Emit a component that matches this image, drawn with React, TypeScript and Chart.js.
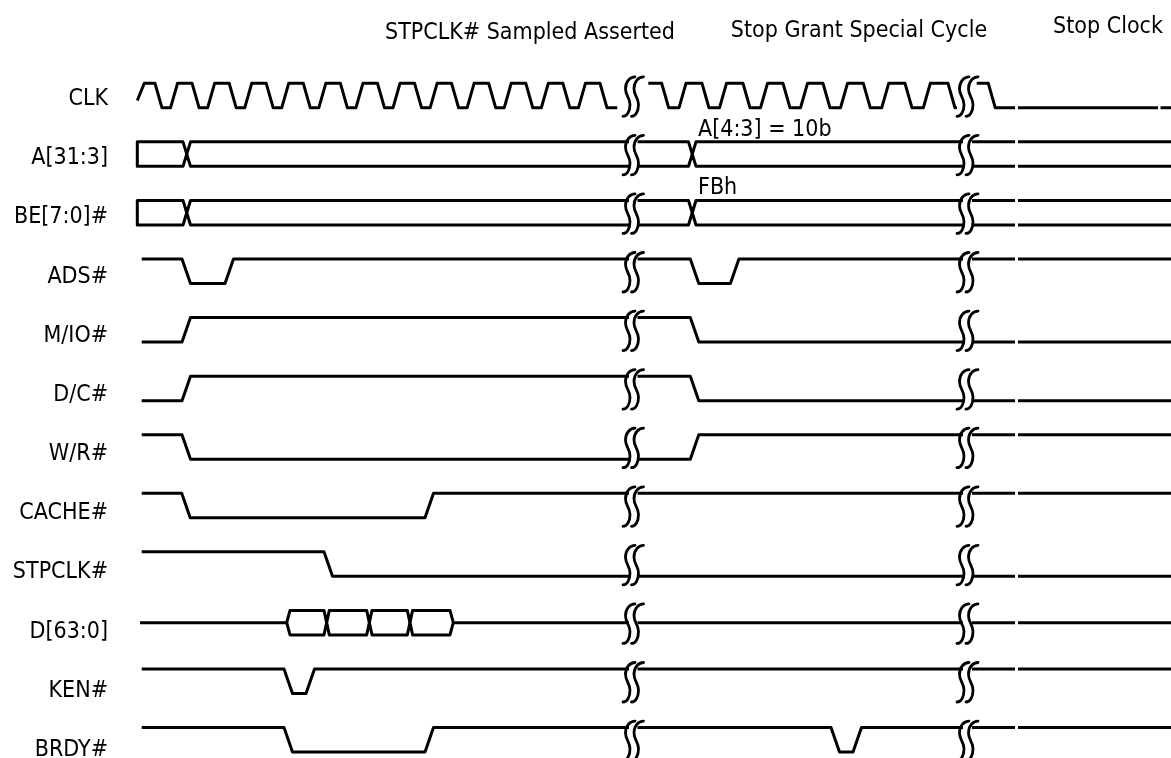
import React, { useEffect, useRef } from "react";
import { Chart, registerables } from "chart.js";

Chart.register(...registerables);

// ---------------- DATA ----------------
const signalNames = ["CLK", "A[31:3]", "BE[7:0]#", "ADS#", "M/IO#", "D/C#", "W/R#", "CACHE#", "STPCLK#", "D[63:0]", "KEN#", "BRDY#"];

const headerTexts = ["STPCLK# Sampled Asserted", "Stop Grant Special Cycle", "Stop Clock"];
const headerCenters = [530, 859, 1108];
const headerBaselinesPx = [39, 37, 33];

const busNoteTexts = ["A[4:3] = 10b", "FBh"];
const busNoteTimes = [698, 698];
const busNoteRows = [1, 2];

// CLK (diagram time units)
const clkStart = 137.3;
const clkStartLevel = 0.3;
const clkFalls = [155, 192.1, 229.2, 266.2, 303.3, 340.4, 377.5, 414.6, 451.6, 488.7, 525.8, 562.9, 600,
  661.7, 702, 743, 783, 823, 863.3, 905, 948, 988.3];
const clkRises = [137.3, 170.5, 207.6, 244.7, 281.7, 318.8, 355.9, 393, 430.1, 467.1, 504.2, 541.3, 578.4, 628,
  679, 719.5, 760.5, 800.5, 840.5, 881.7, 923.3, 961];
const clkGaps: [number, number][] = [[617.3, 648.3], [957, 976.7], [1015, 1018], [1158, 1160.5]];

// buses
const busStart = 137.3;
const aCrossings = [183, 688.5];
const beCrossings = [183, 688.5];
const dFloatStart = 140;
const dValid = [286.7, 453.3];
const dCrossings = [324, 366.7, 407.3];

// single-line signals: [time, new level]
const adsEdges: [number, number][] = [[182, 0], [225, 1], [690.3, 0], [730.4, 1]];
const mioEdges: [number, number][] = [[182, 1], [690.3, 0]];
const dcEdges: [number, number][] = [[182, 1], [690.3, 0]];
const wrEdges: [number, number][] = [[182, 0], [690.3, 1]];
const cacheEdges: [number, number][] = [[181.7, 0], [425, 1]];
const stpclkEdges: [number, number][] = [[324, 0]];
const kenEdges: [number, number][] = [[284, 0], [306, 1]];
const brdyEdges: [number, number][] = [[284, 0], [425, 1], [831, 0], [853, 1]];
const startLevels = [1, 0, 0, 1, 1, 1, 1, 1];

const breakMarks = [[629, 637.5], [963, 972]];
const lineGaps: [number, number][] = [[629, 637.5], [963, 972], [1015, 1018]];
const traceStart = 141.7;
const traceEnd = 1171;

// ---------------- LAYOUT ----------------
const PITCH = 58.57;
const SW = 24.5 / PITCH;
const Y_MIN = -83.3 / PITCH;
const Y_MAX = Y_MIN + 758 / PITCH;
const INK = "#000";
const FONT = '23px "DejaVu Sans Condensed", "DejaVu Sans", sans-serif';
const EDGE = 8.5;
const CLK_EDGE = 7;
const BUS_X = 7.5;
const D_X = 5.3;
const D_OPEN = 3.3;
const LABEL_RIGHT = 108;

type Pt = [number, number];

function edgesToPts(start: number, level: number, edges: [number, number][], w: number, end: number): Pt[] {
  const pts: Pt[] = [[start, level]];
  let cur = level;
  for (const [t, to] of edges) {
    pts.push([t, cur]);
    pts.push([t + w, to]);
    cur = to;
  }
  pts.push([end, cur]);
  return pts;
}

function lerp(p: Pt, q: Pt, t: number) {
  if (q[0] === p[0]) return q[1];
  return p[1] + ((q[1] - p[1]) * (t - p[0])) / (q[0] - p[0]);
}

function clip(pts: Pt[], gaps: [number, number][]): (Pt | null)[] {
  const inGap = (t: number) => gaps.some(([a, b]) => t > a && t < b);
  const out: (Pt | null)[] = [];
  if (!inGap(pts[0][0])) out.push(pts[0]);
  for (let i = 1; i < pts.length; i++) {
    const p = pts[i - 1], q = pts[i];
    if (q[0] > p[0]) {
      const cuts = gaps.filter(([a, b]) => a < q[0] && b > p[0]).sort((m, n) => m[0] - n[0]);
      for (const [a, b] of cuts) {
        if (a >= p[0]) { out.push([a, lerp(p, q, a)]); out.push(null); }
        if (b <= q[0]) out.push([b, lerp(p, q, b)]);
      }
    }
    if (!inGap(q[0])) out.push(q);
  }
  return out;
}

function toData(pts: (Pt | null)[], row: number) {
  return pts.map((p, i) => {
    if (p) return { x: p[0], y: row + (1 - p[1]) * SW };
    const prev = pts[i - 1];
    return { x: prev ? prev[0] : 0, y: null as any };
  });
}

function busPaths(start: number, crossings: number[], end: number, w: number): [Pt[], Pt[]] {
  const top: Pt[] = [[start, 0.5], [start, 1]];
  const bot: Pt[] = [[start, 0.5], [start, 0]];
  for (const t of crossings) {
    top.push([t, 1], [t + w / 2, 0.5], [t + w, 1]);
    bot.push([t, 0], [t + w / 2, 0.5], [t + w, 0]);
  }
  top.push([end, 1]);
  bot.push([end, 0]);
  return [top, bot];
}

function buildDatasets() {
  const lines: { row: number; pts: (Pt | null)[] }[] = [];
  const clkEdges: [number, number][] = [
    ...clkFalls.map((t) => [t, 0] as [number, number]),
    ...clkRises.map((t) => [t, 1] as [number, number]),
  ].sort((a, b) => a[0] - b[0]);
  lines.push({ row: 0, pts: clip(edgesToPts(clkStart, clkStartLevel, clkEdges, CLK_EDGE, traceEnd), clkGaps) });
  const [aTop, aBot] = busPaths(busStart, aCrossings, traceEnd, BUS_X);
  lines.push({ row: 1, pts: clip(aTop, lineGaps) }, { row: 1, pts: clip(aBot, lineGaps) });
  const [bTop, bBot] = busPaths(busStart, beCrossings, traceEnd, BUS_X);
  lines.push({ row: 2, pts: clip(bTop, lineGaps) }, { row: 2, pts: clip(bBot, lineGaps) });
  const singles: [number, [number, number][]][] = [
    [3, adsEdges], [4, mioEdges], [5, dcEdges], [6, wrEdges],
    [7, cacheEdges], [8, stpclkEdges], [10, kenEdges], [11, brdyEdges],
  ];
  singles.forEach(([row, edges], i) => {
    lines.push({ row, pts: clip(edgesToPts(traceStart, startLevels[i], edges, EDGE, traceEnd), lineGaps) });
  });
  const dTop: Pt[] = [[dFloatStart, 0.5], [dValid[0], 0.5], [dValid[0] + D_OPEN, 1]];
  const dBot: Pt[] = [[dValid[0], 0.5], [dValid[0] + D_OPEN, 0]];
  for (const t of dCrossings) {
    dTop.push([t, 1], [t + D_X / 2, 0.5], [t + D_X, 1]);
    dBot.push([t, 0], [t + D_X / 2, 0.5], [t + D_X, 0]);
  }
  dTop.push([dValid[1] - D_OPEN, 1], [dValid[1], 0.5], [traceEnd, 0.5]);
  dBot.push([dValid[1] - D_OPEN, 0], [dValid[1], 0.5]);
  lines.push({ row: 9, pts: clip(dTop, lineGaps) }, { row: 9, pts: clip(dBot, lineGaps) });

  return lines.map((l) => ({
    data: toData(l.pts, l.row),
    borderColor: INK,
    borderWidth: 3,
    pointRadius: 0,
    fill: false,
    tension: 0,
    spanGaps: false,
    borderJoinStyle: "round" as const,
    borderCapStyle: "butt" as const,
    clip: false as any,
  }));
}

function drawS(ctx: CanvasRenderingContext2D, cx: number, top: number, bot: number) {
  const h = bot - top;
  ctx.beginPath();
  ctx.moveTo(cx + 6, top);
  ctx.bezierCurveTo(cx + 1, top, cx - 3.5, top + 0.12 * h, cx - 3.5, top + 0.3 * h);
  ctx.bezierCurveTo(cx - 3.5, top + 0.48 * h, cx + 1, top + 0.52 * h, cx + 1, top + 0.7 * h);
  ctx.bezierCurveTo(cx + 1, top + 0.88 * h, cx - 2, bot, cx - 6, bot);
  ctx.stroke();
}

const decorPlugin = {
  id: "decor",
  afterDatasetsDraw(chart: any) {
    const { ctx } = chart;
    const xs = chart.scales.x;
    const ys = chart.scales.y;
    ctx.save();
    ctx.strokeStyle = INK;
    ctx.lineWidth = 2.8;
    ctx.lineCap = "round";
    ctx.lineJoin = "round";
    for (let r = 0; r < signalNames.length; r++) {
      const top = ys.getPixelForValue(r) - 6.5;
      const bot = ys.getPixelForValue(r + SW) + 8.5;
      for (const pair of breakMarks) for (const c of pair) drawS(ctx, xs.getPixelForValue(c), top, bot);
    }
    ctx.fillStyle = INK;
    ctx.font = FONT;
    ctx.textBaseline = "alphabetic";
    ctx.textAlign = "right";
    signalNames.forEach((name, r) => {
      const base = ys.getPixelForValue(r) + 21.7 + 0.6 * r;
      ctx.fillText(name, xs.getPixelForValue(LABEL_RIGHT), base);
    });
    ctx.textAlign = "left";
    busNoteTexts.forEach((txt, i) => {
      ctx.fillText(txt, xs.getPixelForValue(busNoteTimes[i]), ys.getPixelForValue(busNoteRows[i]) - 6);
    });
    ctx.textAlign = "center";
    headerTexts.forEach((txt, i) => {
      ctx.fillText(txt, xs.getPixelForValue(headerCenters[i]), ys.getPixelForValue(Y_MIN) + headerBaselinesPx[i]);
    });
    ctx.restore();
  },
};

export default function App() {
  const ref = useRef<HTMLCanvasElement>(null);
  useEffect(() => {
    document.body.style.margin = "0";
    document.body.style.overflow = "hidden";
    const canvas = ref.current!;
    const chart = new Chart(canvas, {
      type: "line",
      data: { datasets: buildDatasets() as any },
      options: {
        responsive: false,
        animation: false,
        events: [],
        layout: { padding: 0 },
        plugins: { legend: { display: false }, tooltip: { enabled: false }, title: { display: false } },
        scales: {
          x: { type: "linear", min: 0, max: 1171, display: false },
          y: { type: "linear", min: Y_MIN, max: Y_MAX, reverse: true, display: false },
        },
      },
      plugins: [decorPlugin],
    });
    return () => chart.destroy();
  }, []);
  return <canvas ref={ref} width={1171} height={758} style={{ display: "block", width: 1171, height: 758 }} />;
}
